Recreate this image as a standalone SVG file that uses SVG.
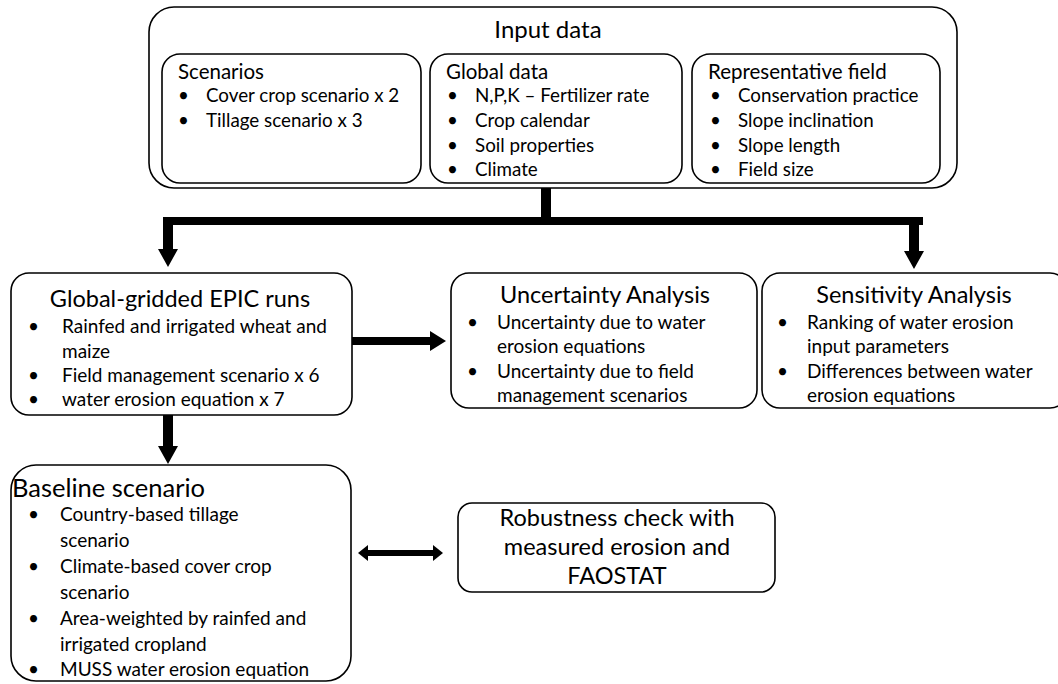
<svg xmlns="http://www.w3.org/2000/svg" width="1058" height="684" viewBox="0 0 1058 684">
<style>
.box{fill:#fff;stroke:#000;stroke-width:1.6}
text{font-family:Lato,"Liberation Sans",sans-serif;fill:#000}
.t1{font-size:23.5px}
.h{font-size:20.5px}
.s{font-size:18.8px}
.m{font-size:19px}
.c{text-anchor:middle}
</style>
<g id="input">
<rect class="box" x="149" y="7" width="808" height="181" rx="25"/>
<text class="c" x="548" y="38" style="font-size:24px">Input data</text>
</g>
<g id="scenarios">
<rect class="box" x="162" y="54" width="259" height="129" rx="18"/>
<text class="h" x="178" y="79">Scenarios</text>
<text class="s" x="178" y="102">•</text><text class="s" x="206" y="102">Cover crop scenario x 2</text>
<text class="s" x="178" y="127">•</text><text class="s" x="206" y="127">Tillage scenario x 3</text>
</g>
<g id="global">
<rect class="box" x="430" y="54" width="252" height="129" rx="18"/>
<text class="h" x="446" y="79">Global data</text>
<text class="s" x="447" y="102">•</text><text class="s" x="475" y="102">N,P,K – Fertilizer rate</text>
<text class="s" x="447" y="127">•</text><text class="s" x="475" y="127">Crop calendar</text>
<text class="s" x="447" y="152">•</text><text class="s" x="475" y="152">Soil properties</text>
<text class="s" x="447" y="176">•</text><text class="s" x="475" y="176">Climate</text>
</g>
<g id="field">
<rect class="box" x="692" y="54" width="248" height="129" rx="18"/>
<text class="h" x="708" y="79">Representative field</text>
<text class="s" x="710" y="102">•</text><text class="s" x="738" y="102">Conservation practice</text>
<text class="s" x="710" y="127">•</text><text class="s" x="738" y="127">Slope inclination</text>
<text class="s" x="710" y="152">•</text><text class="s" x="738" y="152">Slope length</text>
<text class="s" x="710" y="176">•</text><text class="s" x="738" y="176">Field size</text>
</g>
<g id="epic">
<rect class="box" x="11" y="273" width="341" height="142" rx="18"/>
<text class="t1 c" x="180" y="307">Global-gridded EPIC runs</text>
<text class="m" x="28" y="333">•</text><text class="m" x="62" y="333">Rainfed and irrigated wheat and</text>
<text class="m" x="62" y="358">maize</text>
<text class="m" x="28" y="382">•</text><text class="m" x="62" y="382">Field management scenario x 6</text>
<text class="m" x="28" y="406">•</text><text class="m" x="62" y="406">water erosion equation x 7</text>
</g>
<g id="uncertainty">
<rect class="box" x="451" y="273" width="306" height="135" rx="18"/>
<text class="t1 c" x="605" y="303">Uncertainty Analysis</text>
<text class="m" x="467" y="329">•</text><text class="m" x="497" y="329">Uncertainty due to water</text>
<text class="m" x="497" y="353">erosion equations</text>
<text class="m" x="467" y="378">•</text><text class="m" x="497" y="378">Uncertainty due to field</text>
<text class="m" x="497" y="402">management scenarios</text>
</g>
<g id="sensitivity">
<rect class="box" x="762" y="273" width="306" height="135" rx="18"/>
<text class="t1 c" x="914" y="303">Sensitivity Analysis</text>
<text class="m" x="777" y="329">•</text><text class="m" x="807" y="329">Ranking of water erosion</text>
<text class="m" x="807" y="353">input parameters</text>
<text class="m" x="777" y="378">•</text><text class="m" x="807" y="378">Differences between water</text>
<text class="m" x="807" y="402">erosion equations</text>
</g>
<g id="baseline">
<rect class="box" x="11" y="465" width="340" height="216" rx="25"/>
<text x="12" y="497" style="font-size:25.5px">Baseline scenario</text>
<text class="m" x="28" y="521">•</text><text class="m" x="60" y="521">Country-based tillage</text>
<text class="m" x="60" y="547">scenario</text>
<text class="m" x="28" y="573">•</text><text class="m" x="60" y="573">Climate-based cover crop</text>
<text class="m" x="60" y="599">scenario</text>
<text class="m" x="28" y="625">•</text><text class="m" x="60" y="625">Area-weighted by rainfed and</text>
<text class="m" x="60" y="651">irrigated cropland</text>
<text class="m" x="28" y="676">•</text><text class="m" x="60" y="676">MUSS water erosion equation</text>
</g>
<g id="robustness">
<rect class="box" x="458" y="503" width="317" height="89" rx="14"/>
<text class="t1 c" x="617" y="526">Robustness check with</text>
<text class="t1 c" x="617" y="555">measured erosion and</text>
<text class="t1 c" x="617" y="584">FAOSTAT</text>
</g>
<g id="connectors" fill="#000">
<rect x="541" y="188" width="10" height="37"/>
<rect x="163" y="217" width="760" height="8"/>
<polygon points="163,217 173,217 173,249 178,249 168,267 158,249 163,249"/>
<polygon points="909,217 919,217 919,251 924,251 914,269 904,251 909,251"/>
<polygon points="352,337 430,337 430,331 446,341 430,351 430,345 352,345"/>
<polygon points="163,415 173,415 173,446 178,446 168,464 158,446 163,446"/>
<polygon points="358,553 368,545 368,550 433,550 433,545 443,553 433,561 433,556 368,556 368,561"/>
</g>
</svg>
